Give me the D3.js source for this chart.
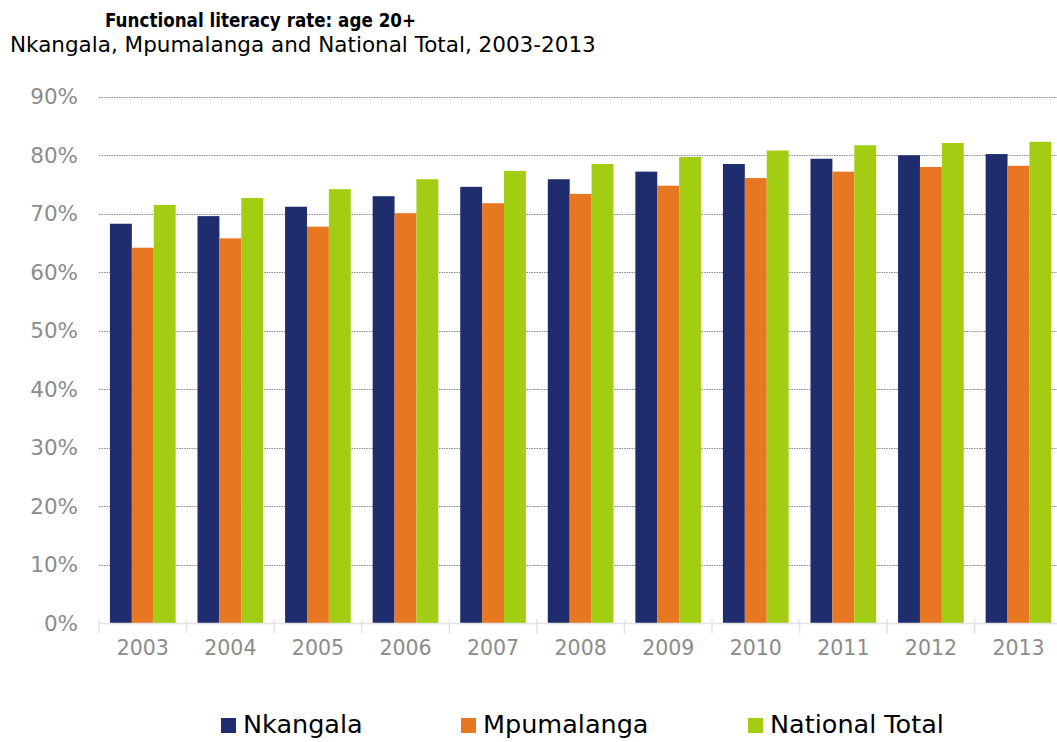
<!DOCTYPE html>
<html><head><meta charset="utf-8">
<script src="https://cdn.jsdelivr.net/npm/d3@7"></script>
<style>body{margin:0;background:#fff}svg{display:block}</style>
</head><body>
<script>
const years = ["2003","2004","2005","2006","2007","2008","2009","2010","2011","2012","2013"];
const seriesNames = ["Nkangala","Mpumalanga","National Total"];
const nkangala   = [68.3,69.6,71.2,73.0,74.6,75.9,77.2,78.5,79.4,80.0,80.2];
const mpumalanga = [64.2,65.8,67.8,70.1,71.8,73.4,74.8,76.1,77.2,78.0,78.2];
const national   = [71.5,72.7,74.2,75.9,77.3,78.5,79.7,80.8,81.7,82.1,82.3];
const yTicks = [0,10,20,30,40,50,60,70,80,90];
const colors = ["#1F2D6E","#E87722","#A2CD13"];

const W = 1057, H = 742;
const svg = d3.select("body").append("svg").attr("width", W).attr("height", H);
const font = "DejaVu Sans, Verdana, sans-serif";

const x0 = d3.scaleBand().domain(years).range([99, 99 + 87.57*11]).paddingInner(0.25).paddingOuter(0.125);
const x1 = d3.scaleBand().domain(seriesNames).range([0, x0.bandwidth()]);
const y = d3.scaleLinear().domain([0, 90]).range([623.5, 96.7]);

// title
svg.append("text").attr("x", 105).attr("y", 27)
  .attr("font-family", font).attr("font-weight","bold").attr("font-size", 20).attr("fill","#000")
  .attr("textLength", 311).attr("lengthAdjust","spacingAndGlyphs")
  .text("Functional literacy rate: age 20+");
svg.append("text").attr("x", 10).attr("y", 52)
  .attr("font-family", font).attr("font-size", 21.5).attr("fill","#000")
  .text("Nkangala, Mpumalanga and National Total, 2003-2013");

// gridlines
const yAxis = d3.axisLeft(y).tickValues(yTicks).tickFormat(d => d + "%").tickSize(0).tickPadding(21);
const gy = svg.append("g").attr("transform","translate(99,0)").call(yAxis);
gy.select(".domain").remove();
gy.selectAll("text").attr("font-family", font).attr("font-size", 21.5).attr("fill","#8c8c8c");
svg.append("g").selectAll("line").data(yTicks.filter(d => d > 0)).join("line")
  .attr("x1", 99).attr("x2", W).attr("y1", d => Math.round(y(d)) + 0.5).attr("y2", d => Math.round(y(d)) + 0.5)
  .attr("stroke","#8a8a8a").attr("stroke-width",1).attr("stroke-dasharray","1.5,1");

// bars
const data = years.map((yr, i) => ({year: yr, vals: [nkangala[i], mpumalanga[i], national[i]]}));
const groups = svg.append("g").selectAll("g").data(data).join("g")
  .attr("transform", d => `translate(${x0(d.year)},0)`);
groups.selectAll("rect").data(d => d.vals.map((v, j) => ({v, s: seriesNames[j], j}))).join("rect")
  .attr("x", d => x1(d.s)).attr("width", x1.bandwidth())
  .attr("y", d => y(d.v)).attr("height", d => y(0) - y(d.v))
  .attr("fill", d => colors[d.j]);

// x axis
const xAxis = d3.axisBottom(x0).tickSize(0).tickPadding(17);
const gx = svg.append("g").attr("transform", `translate(0,${y(0)})`).call(xAxis);
gx.select(".domain").attr("stroke","#e3e3e3").attr("stroke-width",1.5).attr("d", `M99,0H${W}`);
gx.selectAll("text").attr("font-family", font).attr("font-size", 20.5).attr("fill","#8c8c8c");
svg.append("g").selectAll("line").data(d3.range(0, 12)).join("line")
  .attr("x1", i => 99 + x0.step()*i).attr("x2", i => 99 + x0.step()*i)
  .attr("y1", y(0)-4).attr("y2", y(0)+10).attr("stroke","#e3e3e3").attr("stroke-width",1.5);

// legend
const legX = [221, 461, 748];
const leg = svg.append("g").selectAll("g").data(seriesNames).join("g")
  .attr("transform", (d, i) => `translate(${legX[i]},0)`);
leg.append("rect").attr("x",0).attr("y",718).attr("width",15).attr("height",15).attr("fill",(d,i)=>colors[i]);
leg.append("text").attr("x",22).attr("y",733).attr("font-family", font)
  .attr("font-size",25.5).attr("fill","#000").text(d => d);
</script>
</body></html>
